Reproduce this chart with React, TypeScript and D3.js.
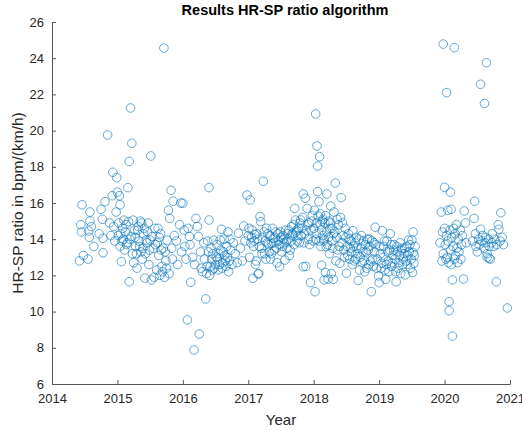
import React, { useRef, useEffect } from 'react';
import * as d3 from 'd3';

// [decimal year, HR-SP ratio], grouped by period
const pts2014: [number, number][] = [
  [2014.42, 12.8], [2014.44, 14.8], [2014.45, 14.4], [2014.46, 15.9], [2014.48, 13.1], [2014.55, 12.9],
  [2014.56, 14.45], [2014.57, 14.1], [2014.58, 15.5], [2014.58, 15.0], [2014.6, 14.7], [2014.64, 13.6],
  [2014.72, 14.3], [2014.75, 15.65], [2014.77, 15.1], [2014.78, 14.05], [2014.78, 13.25], [2014.81, 16.07],
  [2014.85, 19.76], [2014.88, 14.9], [2014.9, 14.2], [2014.92, 16.4], [2014.93, 17.7], [2014.94, 14.7],
  [2014.96, 13.9], [2014.98, 15.5], [2014.99, 17.4],
];

const pts2015: [number, number][] = [
  [2015.0, 16.6], [2015.01, 14.2], [2015.02, 14.9], [2015.03, 16.4], [2015.04, 15.9], [2015.04, 13.6],
  [2015.05, 14.3], [2015.06, 12.76], [2015.07, 13.9], [2015.08, 14.6], [2015.09, 14.0], [2015.1, 15.05],
  [2015.11, 13.4], [2015.12, 14.4], [2015.13, 14.8], [2015.14, 13.7], [2015.15, 13.8], [2015.16, 16.85],
  [2015.17, 14.97], [2015.18, 18.3], [2015.18, 11.65], [2015.19, 14.0], [2015.2, 21.25], [2015.21, 14.15],
  [2015.22, 19.3], [2015.23, 13.2], [2015.24, 15.05], [2015.25, 12.7], [2015.26, 14.5], [2015.27, 14.1],
  [2015.28, 13.6], [2015.29, 13.2], [2015.3, 12.4], [2015.31, 14.5], [2015.32, 14.7], [2015.33, 13.9],
  [2015.34, 13.6], [2015.35, 15.0], [2015.36, 13.3], [2015.37, 14.9], [2015.38, 12.9], [2015.39, 13.5],
  [2015.4, 14.3], [2015.41, 14.6], [2015.42, 11.85], [2015.43, 13.2], [2015.44, 13.95], [2015.45, 13.8],
  [2015.46, 14.4], [2015.47, 14.9], [2015.48, 12.6], [2015.49, 13.4], [2015.5, 13.95], [2015.51, 18.6],
  [2015.52, 11.75], [2015.53, 14.15], [2015.55, 13.5], [2015.56, 11.9], [2015.57, 14.6], [2015.58, 13.7],
  [2015.6, 12.3], [2015.61, 13.8], [2015.62, 14.6], [2015.63, 13.1], [2015.64, 14.1], [2015.65, 12.0],
  [2015.66, 14.3], [2015.67, 13.4], [2015.68, 12.5], [2015.69, 12.2], [2015.7, 13.5], [2015.71, 24.56],
  [2015.72, 11.9], [2015.73, 13.3], [2015.74, 12.8], [2015.75, 12.4], [2015.76, 13.95], [2015.78, 15.6],
  [2015.79, 12.1], [2015.8, 15.15], [2015.82, 16.7], [2015.83, 13.5], [2015.84, 12.9], [2015.85, 16.1],
  [2015.87, 14.2], [2015.9, 13.9], [2015.92, 12.6], [2015.95, 14.8], [2015.97, 16.0], [2015.98, 13.3],
];

const pts2016: [number, number][] = [
  [2016.0, 15.98], [2016.02, 14.5], [2016.03, 13.6], [2016.05, 12.9], [2016.07, 9.54], [2016.08, 14.6],
  [2016.1, 14.15], [2016.11, 13.7], [2016.12, 11.62], [2016.15, 13.0], [2016.17, 7.88], [2016.18, 12.6],
  [2016.2, 15.15], [2016.22, 14.7], [2016.24, 14.15], [2016.25, 8.76], [2016.27, 13.3], [2016.28, 12.4],
  [2016.3, 12.2], [2016.32, 13.8], [2016.33, 12.9], [2016.35, 10.7], [2016.36, 12.1], [2016.37, 12.5],
  [2016.38, 13.9], [2016.39, 13.3], [2016.4, 16.85], [2016.4, 15.06], [2016.41, 12.0], [2016.42, 12.5],
  [2016.43, 13.5], [2016.44, 12.9], [2016.45, 12.3], [2016.46, 13.2], [2016.47, 13.95], [2016.48, 12.4],
  [2016.5, 12.6], [2016.51, 13.0], [2016.52, 13.7], [2016.53, 12.9], [2016.54, 12.3], [2016.55, 13.2],
  [2016.56, 12.6], [2016.57, 13.95], [2016.58, 13.4], [2016.59, 14.55], [2016.6, 12.4], [2016.61, 12.7],
  [2016.62, 13.3], [2016.63, 14.0], [2016.64, 13.1], [2016.65, 12.8], [2016.66, 12.5], [2016.67, 13.6],
  [2016.68, 13.0], [2016.69, 14.4], [2016.7, 12.2], [2016.71, 12.8], [2016.72, 14.0], [2016.73, 13.4],
  [2016.75, 12.6], [2016.77, 13.8], [2016.8, 13.2], [2016.83, 12.7],
];

const pts2017: [number, number][] = [
  [2016.85, 14.33], [2016.88, 13.5], [2016.91, 12.8], [2016.93, 14.73], [2016.95, 13.9], [2016.98, 16.44],
  [2017.0, 14.2], [2017.01, 14.6], [2017.02, 13.0], [2017.03, 16.17], [2017.04, 13.8], [2017.05, 14.1],
  [2017.06, 14.5], [2017.07, 11.84], [2017.08, 13.6], [2017.09, 13.9], [2017.1, 14.25], [2017.11, 12.6],
  [2017.12, 12.8], [2017.13, 14.3], [2017.14, 14.0], [2017.15, 12.08], [2017.16, 12.1], [2017.17, 13.6],
  [2017.18, 15.25], [2017.19, 14.97], [2017.2, 13.5], [2017.21, 13.2], [2017.22, 14.1], [2017.23, 17.2],
  [2017.24, 14.4], [2017.25, 13.2], [2017.26, 13.9], [2017.27, 12.9], [2017.28, 14.6], [2017.29, 13.8],
  [2017.3, 14.3], [2017.31, 13.7], [2017.32, 13.3], [2017.33, 14.2], [2017.34, 12.9], [2017.35, 13.2],
  [2017.36, 13.77], [2017.37, 14.6], [2017.38, 14.05], [2017.39, 13.8], [2017.4, 13.4], [2017.41, 14.1],
  [2017.42, 14.4], [2017.43, 13.5], [2017.44, 12.7], [2017.45, 14.3], [2017.46, 13.9], [2017.47, 13.7],
  [2017.48, 12.48], [2017.49, 14.4], [2017.5, 14.1], [2017.51, 13.3], [2017.52, 13.6], [2017.53, 14.2],
  [2017.54, 14.0], [2017.55, 13.8], [2017.56, 12.85], [2017.57, 14.5], [2017.58, 13.86], [2017.59, 13.5],
  [2017.6, 14.3], [2017.61, 14.0], [2017.62, 14.5], [2017.63, 13.1], [2017.64, 13.4], [2017.65, 13.9],
  [2017.66, 14.7], [2017.67, 14.3], [2017.68, 14.2], [2017.69, 14.8], [2017.7, 13.7], [2017.71, 15.7],
  [2017.72, 15.06], [2017.73, 14.4], [2017.74, 14.5], [2017.75, 13.9], [2017.76, 14.2], [2017.77, 14.6],
  [2017.78, 13.8], [2017.79, 14.9], [2017.8, 15.06], [2017.81, 14.2], [2017.82, 14.6], [2017.83, 15.2],
  [2017.84, 16.5], [2017.84, 12.48], [2017.85, 13.8], [2017.86, 14.3], [2017.87, 16.26], [2017.88, 12.5],
  [2017.89, 14.5], [2017.9, 15.7], [2017.91, 14.8], [2017.92, 14.0], [2017.93, 14.9], [2017.94, 13.7],
  [2017.95, 11.6], [2017.96, 14.5], [2017.97, 15.0], [2017.98, 15.3], [2017.99, 13.9],
];

const pts2018: [number, number][] = [
  [2018.0, 14.6], [2018.01, 15.6], [2018.02, 11.1], [2018.03, 20.92], [2018.03, 14.0], [2018.04, 14.3],
  [2018.05, 19.15], [2018.05, 14.9], [2018.06, 18.04], [2018.06, 16.63], [2018.07, 15.28], [2018.08, 16.07],
  [2018.08, 13.9], [2018.09, 18.56], [2018.1, 14.8], [2018.1, 15.4], [2018.11, 13.6], [2018.12, 12.57],
  [2018.12, 14.5], [2018.13, 15.0], [2018.14, 14.2], [2018.14, 15.1], [2018.15, 13.9], [2018.16, 11.75],
  [2018.16, 14.0], [2018.17, 14.9], [2018.18, 12.15], [2018.18, 15.3], [2018.19, 13.6], [2018.2, 16.5],
  [2018.2, 14.4], [2018.21, 13.7], [2018.22, 11.8], [2018.23, 15.0], [2018.23, 14.1], [2018.24, 13.2],
  [2018.25, 14.6], [2018.26, 15.83], [2018.26, 14.9], [2018.27, 12.1], [2018.28, 13.9], [2018.28, 14.6],
  [2018.29, 13.5], [2018.3, 11.78], [2018.3, 14.3], [2018.31, 15.5], [2018.32, 14.4], [2018.33, 17.1],
  [2018.34, 12.8], [2018.35, 14.1], [2018.36, 15.1], [2018.37, 13.4], [2018.38, 14.8], [2018.39, 13.6],
  [2018.4, 12.67], [2018.41, 15.2], [2018.42, 16.3], [2018.43, 13.8], [2018.44, 14.9], [2018.45, 14.2],
  [2018.46, 13.4], [2018.47, 13.0], [2018.48, 14.6], [2018.49, 14.1], [2018.5, 12.12], [2018.51, 13.6],
  [2018.52, 13.1], [2018.53, 14.3], [2018.54, 14.0], [2018.55, 12.9], [2018.56, 13.5], [2018.57, 13.9],
  [2018.58, 13.3], [2018.59, 12.6], [2018.6, 14.47], [2018.61, 13.6], [2018.62, 12.8], [2018.63, 13.8],
  [2018.64, 12.9], [2018.65, 14.1], [2018.66, 13.5], [2018.67, 13.2], [2018.68, 11.72], [2018.69, 14.0],
  [2018.7, 12.3], [2018.71, 13.0], [2018.72, 13.5], [2018.73, 14.2], [2018.74, 12.7], [2018.75, 13.3],
  [2018.76, 13.9], [2018.77, 12.8], [2018.78, 12.2], [2018.79, 13.7], [2018.8, 13.3], [2018.81, 12.4],
  [2018.82, 14.0], [2018.83, 13.4], [2018.84, 12.6], [2018.85, 14.0], [2018.86, 13.6], [2018.87, 12.8],
  [2018.88, 11.1], [2018.89, 13.9], [2018.9, 12.9], [2018.91, 12.5], [2018.92, 13.8], [2018.93, 13.3],
  [2018.94, 14.66], [2018.95, 13.7], [2018.96, 12.4], [2018.97, 12.9], [2018.99, 11.97],
];

const pts2019: [number, number][] = [
  [2019.0, 11.6], [2019.01, 13.6], [2019.02, 13.2], [2019.03, 12.4], [2019.04, 12.67], [2019.05, 14.47],
  [2019.06, 13.0], [2019.07, 13.6], [2019.08, 13.9], [2019.09, 12.3], [2019.1, 11.78], [2019.11, 12.6],
  [2019.12, 13.9], [2019.13, 13.3], [2019.14, 12.8], [2019.15, 12.2], [2019.16, 13.4], [2019.17, 14.3],
  [2019.18, 13.7], [2019.19, 12.5], [2019.2, 12.7], [2019.21, 13.1], [2019.22, 13.4], [2019.23, 13.7],
  [2019.24, 12.9], [2019.25, 12.2], [2019.26, 11.65], [2019.27, 13.6], [2019.28, 13.3], [2019.29, 12.4],
  [2019.3, 12.7], [2019.31, 13.1], [2019.32, 13.8], [2019.33, 12.1], [2019.34, 13.4], [2019.35, 13.5],
  [2019.36, 12.6], [2019.37, 12.9], [2019.38, 13.2], [2019.39, 13.5], [2019.4, 12.03], [2019.41, 12.8],
  [2019.42, 13.6], [2019.43, 12.6], [2019.44, 13.1], [2019.45, 13.95], [2019.46, 13.3], [2019.47, 13.7],
  [2019.48, 12.4], [2019.49, 12.9], [2019.5, 13.95], [2019.51, 12.15], [2019.52, 13.25], [2019.52, 14.4],
  [2019.53, 12.67], [2019.54, 13.1], [2019.55, 13.6],
];

const pts2020: [number, number][] = [
  [2019.93, 13.8], [2019.95, 15.5], [2019.96, 12.8], [2019.97, 14.4], [2019.98, 24.78], [2019.98, 13.2],
  [2020.0, 16.87], [2020.0, 14.6], [2020.01, 13.7], [2020.02, 12.9], [2020.03, 22.1], [2020.03, 14.2],
  [2020.04, 13.0], [2020.05, 13.9], [2020.05, 15.6], [2020.06, 12.7], [2020.07, 10.55], [2020.07, 10.05],
  [2020.08, 14.5], [2020.09, 16.6], [2020.09, 13.4], [2020.1, 15.65], [2020.1, 12.6], [2020.11, 14.1],
  [2020.12, 11.75], [2020.12, 8.65], [2020.13, 13.6], [2020.14, 14.6], [2020.15, 24.58], [2020.15, 12.9],
  [2020.16, 14.3], [2020.17, 13.1], [2020.18, 14.8], [2020.19, 13.5], [2020.2, 12.7], [2020.21, 14.0],
  [2020.22, 13.3], [2020.24, 14.5], [2020.25, 12.9], [2020.26, 13.7], [2020.27, 14.2], [2020.29, 11.8],
  [2020.3, 15.56], [2020.32, 14.9], [2020.33, 13.8],
  [2020.43, 13.9], [2020.45, 15.15], [2020.46, 16.1], [2020.47, 14.3], [2020.48, 13.6], [2020.5, 13.3],
  [2020.52, 14.0], [2020.53, 13.7], [2020.55, 22.56], [2020.55, 14.55], [2020.57, 13.9], [2020.58, 14.2],
  [2020.6, 13.5], [2020.61, 21.5], [2020.62, 13.8], [2020.63, 14.1], [2020.64, 23.75], [2020.65, 13.2],
  [2020.65, 13.0], [2020.67, 14.0], [2020.68, 13.6], [2020.68, 12.95], [2020.7, 12.9], [2020.72, 13.8],
  [2020.73, 14.3], [2020.75, 13.6], [2020.77, 14.0], [2020.79, 11.65], [2020.8, 13.7], [2020.82, 14.8],
  [2020.83, 14.55], [2020.85, 13.9], [2020.86, 15.46], [2020.88, 14.1], [2020.9, 13.7], [2020.96, 10.2],
];

const xTicks = [2014, 2015, 2016, 2017, 2018, 2019, 2020, 2021];
const yTicks = [6, 8, 10, 12, 14, 16, 18, 20, 22, 24, 26];

const W = 522;
const H = 431;

const App = () => {
  const ref = useRef<SVGSVGElement>(null);

  useEffect(() => {
    const svg = d3.select(ref.current);
    svg.selectAll('*').remove();
    const margin = { top: 22, right: 12, bottom: 47, left: 52 };
    const font = '"Liberation Sans", Arial, sans-serif';
    const axisColor = '#555';

    const x = d3.scaleLinear().domain([2014, 2021]).range([margin.left, W - margin.right]);
    const y = d3.scaleLinear().domain([6, 26]).range([H - margin.bottom, margin.top]);

    const all = [...pts2014, ...pts2015, ...pts2016, ...pts2017, ...pts2018, ...pts2019, ...pts2020];

    svg.append('g')
      .selectAll('circle')
      .data(all)
      .enter()
      .append('circle')
      .attr('cx', d => x(d[0]))
      .attr('cy', d => y(d[1]))
      .attr('r', 4.3)
      .attr('fill', 'none')
      .attr('stroke', '#0072BD')
      .attr('stroke-opacity', 0.6)
      .attr('stroke-width', 1);

    // x axis, ticks inward
    const xAxis = svg.append('g')
      .attr('transform', `translate(0,${H - margin.bottom})`)
      .call(d3.axisBottom(x).tickValues(xTicks).tickFormat(d3.format('d')).tickSizeInner(-4).tickSizeOuter(0).tickPadding(10));
    xAxis.select('.domain').attr('stroke', axisColor);
    xAxis.selectAll('line').attr('stroke', axisColor);
    xAxis.selectAll('text').attr('fill', '#262626').style('font-family', font).style('font-size', '13px');

    // y axis, ticks inward
    const yAxis = svg.append('g')
      .attr('transform', `translate(${margin.left},0)`)
      .call(d3.axisLeft(y).tickValues(yTicks).tickSizeInner(-4).tickSizeOuter(0).tickPadding(8));
    yAxis.select('.domain').attr('stroke', axisColor);
    yAxis.selectAll('line').attr('stroke', axisColor);
    yAxis.selectAll('text').attr('fill', '#262626').style('font-family', font).style('font-size', '13px');

    svg.append('text')
      .attr('x', (margin.left + W - margin.right) / 2 + 4)
      .attr('y', 15)
      .attr('text-anchor', 'middle')
      .style('font-family', font)
      .style('font-size', '14.5px')
      .style('font-weight', 'bold')
      .attr('fill', '#000')
      .text('Results HR-SP ratio algorithm');

    svg.append('text')
      .attr('x', (margin.left + W - margin.right) / 2)
      .attr('y', 425)
      .attr('text-anchor', 'middle')
      .style('font-family', font)
      .style('font-size', '15px')
      .attr('fill', '#262626')
      .text('Year');

    svg.append('text')
      .attr('transform', `translate(23,${(margin.top + H - margin.bottom) / 2}) rotate(-90)`)
      .attr('text-anchor', 'middle')
      .style('font-family', font)
      .style('font-size', '15.5px')
      .attr('fill', '#262626')
      .text('HR-SP ratio in bpm/(km/h)');
  }, []);

  return (
    <svg ref={ref} width={W} height={H} style={{ position: 'absolute', left: 0, top: 0, background: '#fff' }} />
  );
};

export default App;
